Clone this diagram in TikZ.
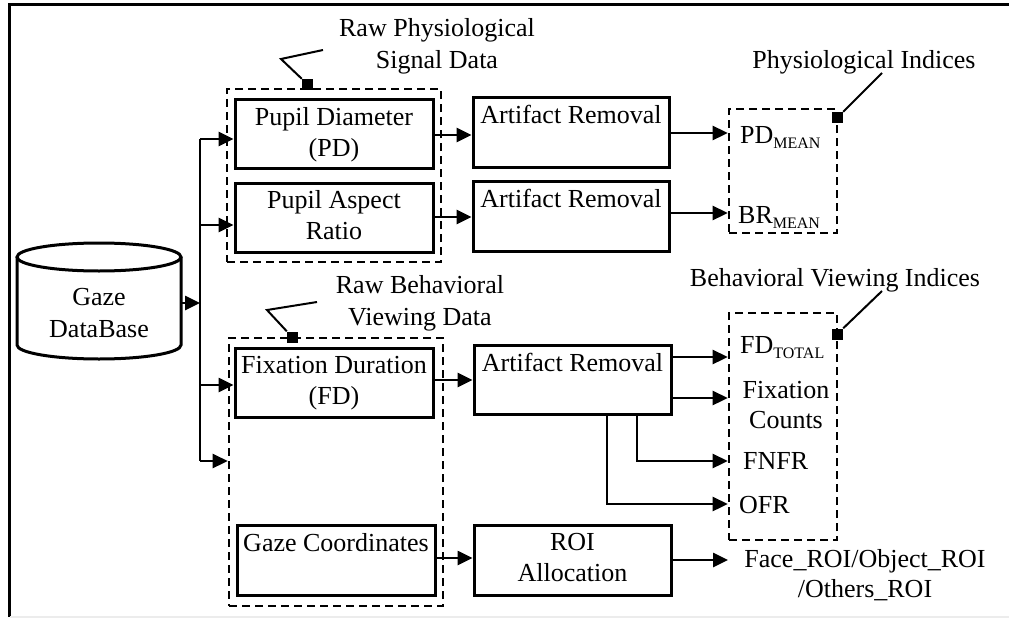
\documentclass[tikz,border=0pt]{standalone}
\usepackage{fontspec}
\setmainfont{Liberation Serif}
\usetikzlibrary{arrows.meta}
\newcommand\mainsize{\fontsize{26}{31}\selectfont}
\newcommand\subtxt[1]{\raisebox{-5pt}{\fontsize{16}{16}\selectfont #1}}
\begin{document}
\begin{tikzpicture}[x=1pt,y=-1pt,
  blk/.style={draw, line width=3pt, inner sep=0pt},
  grp/.style={draw, line width=2.6pt, dash pattern=on 8pt off 5pt, inner sep=0pt},
  conn/.style={line width=2.6pt, -{Triangle[length=15pt,width=14pt]}},
  wire/.style={line width=2.6pt},
  lead/.style={line width=2pt},
  sqr/.style={fill=black, minimum size=11pt, inner sep=0pt},
  txt/.style={anchor=base, inner sep=0pt, font=\mainsize},
  ltxt/.style={anchor=base west, inner sep=0pt, font=\mainsize}]
\useasboundingbox (0,0) rectangle (1009,618);

% frame lines
\draw[line width=3pt] (9,617) -- (9,5) -- (1009,5);
\draw[gray!15, line width=2pt] (10,617) -- (1009,617);

% database cylinder
\draw[line width=3pt] (17,257) -- (17,345)
  arc[start angle=180, end angle=0, x radius=82, y radius=14] -- (181,257);
\draw[line width=3pt] (99,257) ellipse [x radius=82, y radius=14];
\node[minimum width=164pt, minimum height=102pt, inner sep=0pt] (db) at (99,301) {};
\node[txt] (dbt1) at (99,305) {Gaze};
\node[txt] (dbt2) at (99,337) {DataBase};

% group frames
\node[grp, minimum width=214pt, minimum height=173pt] (phy) at (334,175.5) {};
\node[grp, minimum width=214pt, minimum height=268pt] (beh) at (336,472) {};
\node[grp, minimum width=108pt, minimum height=124pt] (pidx) at (783,171) {};
\node[grp, minimum width=108pt, minimum height=227pt] (bidx) at (783,426.5) {};

% raw data blocks
\node[blk, minimum width=198pt, minimum height=69pt] (pd) at (334,133.5) {};
\node[txt] (pdt1) at (334,125) {Pupil Diameter};
\node[txt] (pdt2) at (334,156) {(PD)};
\node[blk, minimum width=198pt, minimum height=69pt] (par) at (334,217.5) {};
\node[txt] (part1) at (334,208) {Pupil Aspect};
\node[txt] (part2) at (334,239) {Ratio};
\node[blk, minimum width=198pt, minimum height=69pt] (fd) at (334,382.5) {};
\node[txt] (fdt1) at (334,373) {Fixation Duration};
\node[txt] (fdt2) at (334,404) {(FD)};
\node[blk, minimum width=198pt, minimum height=70pt] (gc) at (336,560) {};
\node[txt] (gct) at (336,551) {Gaze Coordinates};

% processing blocks
\node[blk, minimum width=196pt, minimum height=70pt] (ar1) at (571,132) {};
\node[txt] (ar1t) at (571,123) {Artifact Removal};
\node[blk, minimum width=196pt, minimum height=70pt] (ar2) at (571,216) {};
\node[txt] (ar2t) at (571,207) {Artifact Removal};
\node[blk, minimum width=197pt, minimum height=69pt] (ar3) at (572.5,379.5) {};
\node[txt] (ar3t) at (572.5,371) {Artifact Removal};
\node[blk, minimum width=197pt, minimum height=70pt] (roi) at (572.5,560) {};
\node[txt] (roit1) at (572.5,550) {ROI};
\node[txt] (roit2) at (572.5,581) {Allocation};

% group captions
\node[txt] (cap1a) at (437,37) {Raw Physiological};
\node[txt] (cap1b) at (437,69) {Signal Data};
\node[txt] (cap2a) at (420,293) {Raw Behavioral};
\node[txt] (cap2b) at (420,325) {Viewing Data};
\node[txt] (cap3) at (864,68) {Physiological Indices};
\node[txt] (cap4) at (835,286) {Behavioral Viewing Indices};

% caption leaders
\node[sqr] (s1) at (307.5,84.5) {};
\coordinate (l1) at (323,50);
\draw[lead] (l1) -- (281,59) -- (s1.north west);
\node[sqr] (s2) at (292.5,337) {};
\coordinate (l2) at (317,302);
\draw[lead] (l2) -- (267,310) -- (s2.north west);
\node[sqr] (s3) at (837.5,117.5) {};
\coordinate (l3) at (882,73);
\draw[lead] (l3) -- (s3.north east);
\node[sqr] (s4) at (837.5,334) {};
\coordinate (l4) at (882,291);
\draw[lead] (l4) -- (s4.north east);

% indices
\node[ltxt] (pdm) at (740,143) {PD\subtxt{MEAN}};
\node[ltxt] (brm) at (738,223) {BR\subtxt{MEAN}};
\node[ltxt] (fdt) at (740,353) {FD\subtxt{TOTAL}};
\node[txt] (fc1) at (786,398) {Fixation};
\node[txt] (fc2) at (786,428) {Counts};
\node[ltxt] (fnfr) at (743,469) {FNFR};
\node[ltxt] (ofr) at (739,513) {OFR};
\node[txt] (out1) at (865,567) {Face\_ROI/Object\_ROI};
\node[txt] (out2) at (865,597) {/Others\_ROI};

% distribution bus
\coordinate (bj) at (200,303);
\coordinate (btop) at (200,139);
\coordinate (b2) at (200,225);
\coordinate (b3) at (200,385);
\coordinate (bbot) at (200,461);
\draw[conn] (db.east |- bj) -- (bj);
\draw[wire] (btop) -- (bbot);
\draw[conn] (btop) -- (btop -| pd.west);
\draw[conn] (b2) -- (b2 -| par.west);
\draw[conn] (b3) -- (b3 -| fd.west);
\draw[conn] (bbot) -- (bbot -| beh.west);

% row levels
\coordinate (r1) at (0,135);
\coordinate (r2) at (0,217);
\coordinate (r3) at (0,133);
\coordinate (r4) at (0,213);
\coordinate (r5) at (0,380);
\coordinate (r6) at (0,558);
\coordinate (r7) at (0,357);
\coordinate (r8) at (0,398);
\coordinate (r9) at (0,461);
\coordinate (r10) at (0,504);
\coordinate (r11) at (0,560);
\coordinate (c1) at (637,0);
\coordinate (c2) at (607,0);
\coordinate (roiend) at (728,560);

\draw[conn] (pd.east |- r1) -- (ar1.west |- r1);
\draw[conn] (par.east |- r2) -- (ar2.west |- r2);
\draw[conn] (ar1.east |- r3) -- (pidx.west |- r3);
\draw[conn] (ar2.east |- r4) -- (pidx.west |- r4);
\draw[conn] (fd.east |- r5) -- (ar3.west |- r5);
\draw[conn] (gc.east |- r6) -- (roi.west |- r6);
\draw[conn] (ar3.east |- r7) -- (bidx.west |- r7);
\draw[conn] (ar3.east |- r8) -- (bidx.west |- r8);
\draw[conn] (ar3.south -| c1) |- (bidx.west |- r9);
\draw[conn] (ar3.south -| c2) |- (bidx.west |- r10);
\draw[conn] (roi.east |- r11) -- (roiend);
\end{tikzpicture}
\end{document}
